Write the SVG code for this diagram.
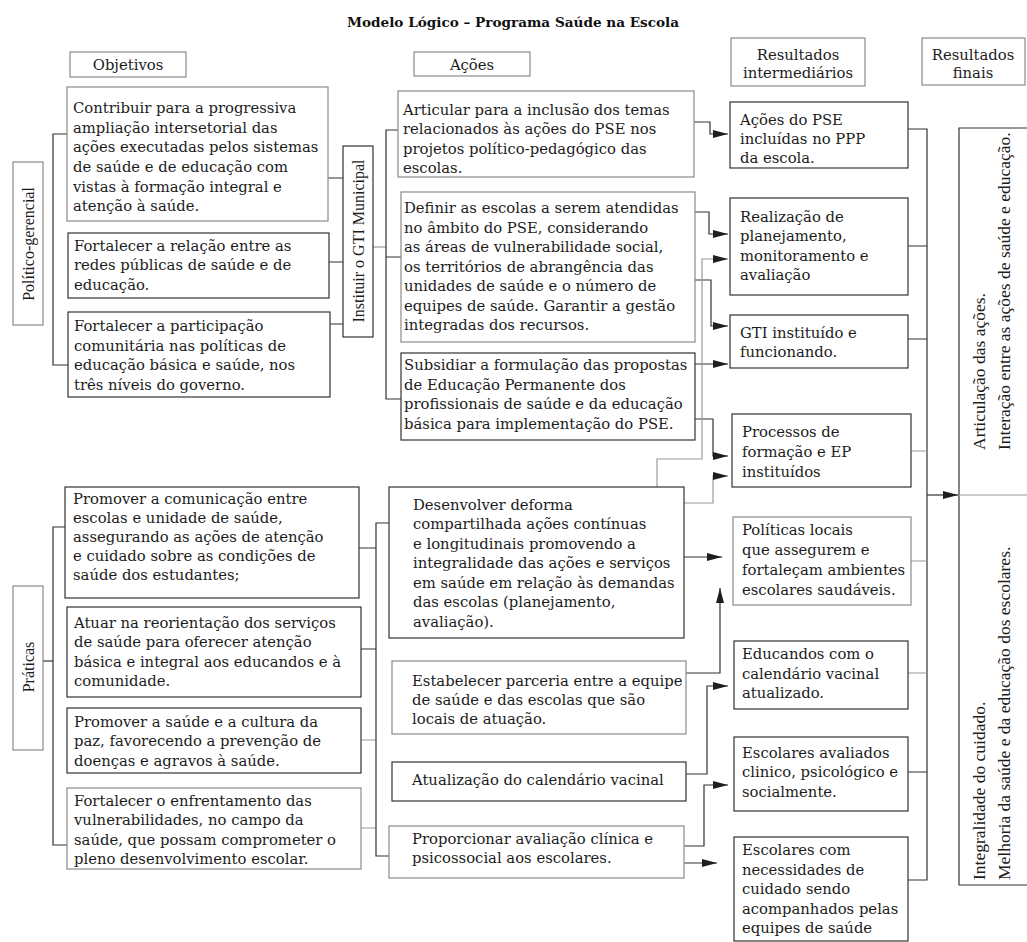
<svg xmlns="http://www.w3.org/2000/svg" width="1027" height="942" viewBox="0 0 1027 942">
<style>
.b{fill:#fff;stroke:#333;stroke-width:1.2}
.bg{fill:#fff;stroke:#8a8a8a;stroke-width:1.2}
.t{font-family:"DejaVu Serif","Liberation Serif",serif;font-size:14.8px;fill:#1c1c1c}
.h{font-family:"DejaVu Serif","Liberation Serif",serif;font-size:14.8px;fill:#1c1c1c;text-anchor:middle}
.v{font-family:"Liberation Serif",serif;font-size:16px;fill:#1c1c1c;text-anchor:middle}
.vf{font-family:"Liberation Serif",serif;font-size:17.5px;fill:#1c1c1c}
.c{fill:none;stroke:#333;stroke-width:1.2}
.cg{fill:none;stroke:#9a9a9a;stroke-width:1.2}
.a{marker-end:url(#ah)}
</style>
<defs>
<marker id="ah" markerUnits="userSpaceOnUse" markerWidth="16" markerHeight="10" refX="15" refY="4" orient="auto"><path d="M0,0 L15,4 L0,8 z" fill="#1e1e1e"/></marker>
</defs>
<rect width="1027" height="942" fill="#fff"/>
<text x="513" y="27" text-anchor="middle" style="font-family:'DejaVu Serif',serif;font-weight:bold;font-size:13.6px;fill:#111">Modelo Lógico – Programa Saúde na Escola</text>

<g id="headers">
<g id="h-objetivos"><rect class="bg" x="70" y="52" width="116" height="25"/><text class="h" x="128" y="70">Objetivos</text></g>
<g id="h-acoes"><rect class="bg" x="414" y="52" width="116" height="24"/><text class="h" x="472" y="70">Ações</text></g>
<g id="h-resint"><rect class="bg" x="731" y="38" width="134" height="48"/><text class="h" x="798" y="60">Resultados</text><text class="h" x="798" y="78">intermediários</text></g>
<g id="h-resfin"><rect class="bg" x="922" y="38" width="103" height="47"/><text class="h" x="973" y="60">Resultados</text><text class="h" x="973" y="78">finais</text></g>
</g>

<g id="connectors">
<path class="c" d="M67,134 H53 V365 H68"/>
<path class="c" d="M43,661 H53"/>
<path class="c" d="M65,527 H53 V845 H67"/>
<path class="c" d="M328,178 H343 M329,262 H343 M330,324 H343"/>
<path class="cg" d="M373,247 H386"/>
<path class="c" d="M398,130 H386 V399 H401 M386,257 H401"/>
<path class="c" d="M359,548 H376 M361,649 H376"/>
<path class="cg" d="M361,740 H376 M361,828 H376"/>
<path class="c" d="M389,523 H376 V856 H389"/>
<path class="c a" d="M694,122 H710 V134 H728"/>
<path class="c a" d="M695,212 H709 V234 H728"/>
<path class="c a" d="M695,280 H711 V326 H728"/>
<path class="c a" d="M695,364 H728"/>
<path class="c a" d="M695,419 H713 V456 H728"/>
<path class="cg a" d="M657,487 V459 H702 V259 H728"/>
<path class="cg a" d="M684,503 H713 V476 H728"/>
<path class="c a" d="M684,557 H722"/>
<path class="c a" d="M686,673 H720 V588"/>
<path class="c a" d="M686,774 H707 V686 H728"/>
<path class="c a" d="M684,846 H704 V785 H728"/>
<path class="c a" d="M684,863 H717"/>
<path class="c" d="M908,129 H927 V880 H908 M908,246 H927 M908,339 H927 M908,772 H927"/>
<path class="cg" d="M911,451 H927 M911,561 H927 M908,673 H927"/>
<path class="c a" d="M927,495 H958"/>
</g>

<g id="politico"><rect class="bg" x="13" y="162" width="30" height="163"/><text class="v" transform="translate(33.5,244) rotate(-90)">Político-gerencial</text></g>
<g id="praticas"><rect class="bg" x="13" y="586" width="30" height="164"/><text class="v" transform="translate(33.5,667) rotate(-90)">Práticas</text></g>
<g id="gti"><rect class="b" x="343" y="146" width="30" height="191"/><text class="v" transform="translate(364,241) rotate(-90)">Instituir o GTI Municipal</text></g>

<g id="o1"><rect class="bg" x="67" y="87" width="261" height="134"/><text class="t"><tspan x="73" y="113">Contribuir para a progressiva</tspan><tspan x="73" y="133">ampliação intersetorial das</tspan><tspan x="73" y="152">ações executadas pelos sistemas</tspan><tspan x="73" y="172">de saúde e de educação com</tspan><tspan x="73" y="192">vistas à formação integral e</tspan><tspan x="73" y="211">atenção à saúde.</tspan></text></g>
<g id="o2"><rect class="b" x="68" y="233" width="261" height="65"/><text class="t"><tspan x="74" y="251">Fortalecer a relação entre as</tspan><tspan x="74" y="270">redes públicas de saúde e de</tspan><tspan x="74" y="290">educação.</tspan></text></g>
<g id="o3"><rect class="b" x="68" y="312" width="262" height="85"/><text class="t"><tspan x="74" y="331">Fortalecer a participação</tspan><tspan x="74" y="351">comunitária nas políticas de</tspan><tspan x="74" y="370">educação básica e saúde, nos</tspan><tspan x="74" y="390">três níveis do governo.</tspan></text></g>

<g id="o4"><rect class="b" x="65" y="487" width="294" height="111"/><text class="t"><tspan x="73" y="504">Promover a comunicação entre</tspan><tspan x="73" y="523">escolas e unidade de saúde,</tspan><tspan x="73" y="542">assegurando as ações de atenção</tspan><tspan x="73" y="561">e cuidado sobre as condições de</tspan><tspan x="73" y="580">saúde dos estudantes;</tspan></text></g>
<g id="o5"><rect class="b" x="67" y="607" width="294" height="90"/><text class="t"><tspan x="74" y="628">Atuar na reorientação dos serviços</tspan><tspan x="74" y="647">de saúde para oferecer atenção</tspan><tspan x="74" y="667">básica e integral aos educandos e à</tspan><tspan x="74" y="686">comunidade.</tspan></text></g>
<g id="o6"><rect class="b" x="67" y="708" width="294" height="65"/><text class="t"><tspan x="74" y="727">Promover a saúde e a cultura da</tspan><tspan x="74" y="746">paz, favorecendo a prevenção de</tspan><tspan x="74" y="766">doenças e agravos à saúde.</tspan></text></g>
<g id="o7"><rect class="bg" x="67" y="788" width="294" height="81"/><text class="t"><tspan x="74" y="806">Fortalecer o enfrentamento das</tspan><tspan x="74" y="825">vulnerabilidades, no campo da</tspan><tspan x="74" y="845">saúde, que possam comprometer o</tspan><tspan x="74" y="864">pleno desenvolvimento escolar.</tspan></text></g>

<g id="a1"><rect class="bg" x="398" y="91" width="296" height="86"/><text class="t"><tspan x="403" y="115">Articular para a inclusão dos temas</tspan><tspan x="403" y="134">relacionados às ações do PSE nos</tspan><tspan x="403" y="154">projetos político-pedagógico das</tspan><tspan x="403" y="173">escolas.</tspan></text></g>
<g id="a2"><rect class="bg" x="401" y="192" width="294" height="150"/><text class="t"><tspan x="404" y="213">Definir as escolas a serem atendidas</tspan><tspan x="404" y="233">no âmbito do PSE, considerando</tspan><tspan x="404" y="252">as áreas de vulnerabilidade social,</tspan><tspan x="404" y="272">os territórios de abrangência das</tspan><tspan x="404" y="291">unidades de saúde e o número de</tspan><tspan x="404" y="311">equipes de saúde. Garantir a gestão</tspan><tspan x="404" y="330">integradas dos recursos.</tspan></text></g>
<g id="a3"><rect class="b" x="401" y="353" width="294" height="87"/><text class="t"><tspan x="404" y="370">Subsidiar a formulação das propostas</tspan><tspan x="404" y="390">de Educação Permanente dos</tspan><tspan x="404" y="409">profissionais de saúde e da educação</tspan><tspan x="404" y="429">básica para implementação do PSE.</tspan></text></g>

<g id="a4"><rect class="b" x="389" y="487" width="295" height="151"/><text class="t"><tspan x="413" y="510">Desenvolver deforma</tspan><tspan x="413" y="529">compartilhada ações contínuas</tspan><tspan x="413" y="549">e longitudinais promovendo a</tspan><tspan x="413" y="568">integralidade das ações e serviços</tspan><tspan x="413" y="588">em saúde em relação às demandas</tspan><tspan x="413" y="607">das escolas (planejamento,</tspan><tspan x="413" y="627">avaliação).</tspan></text></g>
<g id="a5"><rect class="bg" x="392" y="661" width="294" height="73"/><text class="t"><tspan x="412" y="686">Estabelecer parceria entre a equipe</tspan><tspan x="412" y="705">de saúde e das escolas que são</tspan><tspan x="412" y="724">locais de atuação.</tspan></text></g>
<g id="a6"><rect class="b" x="392" y="762" width="294" height="39"/><text class="t"><tspan x="412" y="785">Atualização do calendário vacinal</tspan></text></g>
<g id="a7"><rect class="bg" x="389" y="826" width="295" height="52"/><text class="t"><tspan x="412" y="844">Proporcionar avaliação clínica e</tspan><tspan x="412" y="863">psicossocial aos escolares.</tspan></text></g>

<g id="r1"><rect class="b" x="730" y="102" width="178" height="66"/><text class="t"><tspan x="740" y="125">Ações do PSE</tspan><tspan x="740" y="144">incluídas no PPP</tspan><tspan x="740" y="163">da escola.</tspan></text></g>
<g id="r2"><rect class="b" x="730" y="198" width="178" height="97"/><text class="t"><tspan x="740" y="222">Realização de</tspan><tspan x="740" y="241">planejamento,</tspan><tspan x="740" y="261">monitoramento e</tspan><tspan x="740" y="280">avaliação</tspan></text></g>
<g id="r3"><rect class="b" x="730" y="315" width="178" height="53"/><text class="t"><tspan x="740" y="338">GTI instituído e</tspan><tspan x="740" y="357">funcionando.</tspan></text></g>
<g id="r4"><rect class="b" x="732" y="414" width="179" height="73"/><text class="t"><tspan x="742" y="437">Processos de</tspan><tspan x="742" y="457">formação e EP</tspan><tspan x="742" y="477">instituídos</tspan></text></g>
<g id="r5"><rect class="bg" x="733" y="517" width="178" height="88"/><text class="t"><tspan x="742" y="535">Políticas locais</tspan><tspan x="742" y="555">que assegurem e</tspan><tspan x="742" y="575">fortaleçam ambientes</tspan><tspan x="742" y="595">escolares saudáveis.</tspan></text></g>
<g id="r6"><rect class="b" x="734" y="641" width="174" height="68"/><text class="t"><tspan x="742" y="659">Educandos com o</tspan><tspan x="742" y="679">calendário vacinal</tspan><tspan x="742" y="698">atualizado.</tspan></text></g>
<g id="r7"><rect class="b" x="734" y="737" width="174" height="74"/><text class="t"><tspan x="742" y="758">Escolares avaliados</tspan><tspan x="742" y="777">clinico, psicológico e</tspan><tspan x="742" y="797">socialmente.</tspan></text></g>
<g id="r8"><rect class="b" x="734" y="837" width="174" height="104"/><text class="t"><tspan x="742" y="855">Escolares com</tspan><tspan x="742" y="875">necessidades de</tspan><tspan x="742" y="894">cuidado sendo</tspan><tspan x="742" y="914">acompanhados pelas</tspan><tspan x="742" y="933">equipes de saúde</tspan></text></g>

<g id="final">
<path class="c" d="M1027,128 H959 V885 H1027"/>
<path class="cg" d="M959,495 H1027"/>
<text class="vf" transform="translate(985,450) rotate(-90)">Articulação das ações.</text>
<text class="vf" transform="translate(1010,450) rotate(-90)">Interação entre as ações de saúde e educação.</text>
<text class="vf" transform="translate(985,880) rotate(-90)">Integralidade do cuidado.</text>
<text class="vf" transform="translate(1010,880) rotate(-90)">Melhoria da saúde e da educação dos escolares.</text>
</g>
</svg>
